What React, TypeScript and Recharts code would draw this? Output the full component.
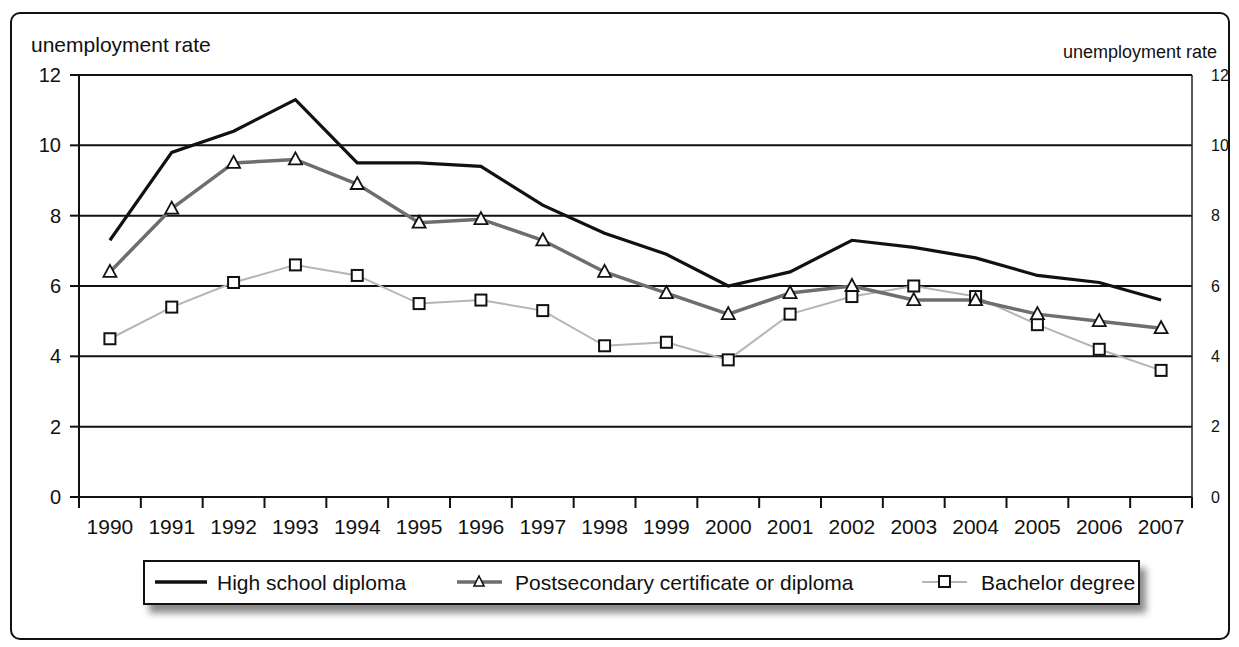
import React from 'react';
import {
  LineChart,
  Line,
  XAxis,
  YAxis,
  CartesianGrid,
} from 'recharts';

const years = ['1990', '1991', '1992', '1993', '1994', '1995', '1996', '1997', '1998', '1999', '2000', '2001', '2002', '2003', '2004', '2005', '2006', '2007'];
const highSchool = [7.3, 9.8, 10.4, 11.3, 9.5, 9.5, 9.4, 8.3, 7.5, 6.9, 6.0, 6.4, 7.3, 7.1, 6.8, 6.3, 6.1, 5.6];
const postsecondary = [6.4, 8.2, 9.5, 9.6, 8.9, 7.8, 7.9, 7.3, 6.4, 5.8, 5.2, 5.8, 6.0, 5.6, 5.6, 5.2, 5.0, 4.8];
const bachelor = [4.5, 5.4, 6.1, 6.6, 6.3, 5.5, 5.6, 5.3, 4.3, 4.4, 3.9, 5.2, 5.7, 6.0, 5.7, 4.9, 4.2, 3.6];
const yTicks = [0, 2, 4, 6, 8, 10, 12];

const W = 1239;
const H = 647;
const PLOT_LEFT = 79;
const PLOT_RIGHT = 1192;
const PLOT_TOP = 75;
const PLOT_BOTTOM = 497;
const BAND = (PLOT_RIGHT - PLOT_LEFT) / years.length;
const FONT = '"Liberation Sans", Arial, sans-serif';

const data = years.map((year, i) => ({
  year,
  highSchool: highSchool[i],
  postsecondary: postsecondary[i],
  bachelor: bachelor[i],
}));

const YearTick = ({ x, payload, index }: any) => (
  <g>
    <line x1={x - BAND / 2} x2={x - BAND / 2} y1={PLOT_BOTTOM} y2={PLOT_BOTTOM + 11} stroke="#111" strokeWidth={2} />
    {index === years.length - 1 && (
      <line x1={x + BAND / 2} x2={x + BAND / 2} y1={PLOT_BOTTOM} y2={PLOT_BOTTOM + 11} stroke="#111" strokeWidth={2} />
    )}
    <text x={x} y={PLOT_BOTTOM + 37} textAnchor="middle" fontSize={21} fill="#111" fontFamily={FONT}>
      {payload.value}
    </text>
  </g>
);

const Triangle = ({ cx, cy, index }: any) => (
  <path
    key={`tri-${index}`}
    d={`M${cx},${cy - 7} L${cx + 6.5},${cy + 5} L${cx - 6.5},${cy + 5} Z`}
    fill="#fff"
    stroke="#111"
    strokeWidth={1.8}
  />
);

const Square = ({ cx, cy, index }: any) => (
  <rect key={`sq-${index}`} x={cx - 5.5} y={cy - 5.5} width={11} height={11} fill="#fff" stroke="#111" strokeWidth={2} />
);

// legend drawn in page coordinates, box sits at left 143
const LegendBox = () => (
  <div
    style={{
      position: 'absolute',
      left: 143,
      top: 560,
      width: 997,
      height: 45,
      border: '2px solid #111',
      background: '#fff',
      boxShadow: '6px 8px 7px #8a8a8a',
      boxSizing: 'border-box',
    }}
  >
    <svg width={995} height={41} style={{ position: 'absolute', left: 0, top: 0 }}>
      <line x1={10} x2={62} y1={20} y2={20} stroke="#111" strokeWidth={3.5} />
      <text x={72} y={28} fontSize={21} fontFamily={FONT} fill="#111">High school diploma</text>
      <line x1={312} x2={357} y1={20} y2={20} stroke="#6e6e6e" strokeWidth={3.5} />
      <path d="M334,14 L339,24 L329,24 Z" fill="#fff" stroke="#111" strokeWidth={1.6} />
      <text x={370} y={28} fontSize={21} fontFamily={FONT} fill="#111">Postsecondary certificate or diploma</text>
      <line x1={777} x2={822} y1={20} y2={20} stroke="#b5b5b5" strokeWidth={2} />
      <rect x={794} y={14} width={11} height={11} fill="#fff" stroke="#111" strokeWidth={2} />
      <text x={836} y={28} fontSize={21} fontFamily={FONT} fill="#111">Bachelor degree</text>
    </svg>
  </div>
);

export default function App() {
  return (
    <div style={{ position: 'absolute', left: 0, top: 0, width: W, height: H, background: '#fff', fontFamily: FONT }}>
      <div
        style={{
          position: 'absolute',
          left: 10,
          top: 12,
          width: 1220,
          height: 628,
          border: '2px solid #111',
          borderRadius: 10,
          boxSizing: 'border-box',
        }}
      />
      <div style={{ position: 'absolute', left: 31, top: 33, fontSize: 21, color: '#111' }}>unemployment rate</div>
      <div style={{ position: 'absolute', left: 1063, top: 42, fontSize: 18, color: '#111' }}>unemployment rate</div>
      <div style={{ position: 'absolute', left: 0, top: 0 }}>
        <LineChart
          width={W}
          height={H}
          data={data}
          margin={{ top: PLOT_TOP, left: PLOT_LEFT - 40, right: W - PLOT_RIGHT - 40, bottom: H - PLOT_BOTTOM - 40 }}
        >
          <CartesianGrid yAxisId="left" horizontal vertical={false} stroke="#111" strokeWidth={2} />
          <XAxis
            dataKey="year"
            scale="band"
            interval={0}
            height={40}
            tick={<YearTick />}
            tickLine={false}
            axisLine={{ stroke: '#111', strokeWidth: 2 }}
          />
          <YAxis
            yAxisId="left"
            width={40}
            domain={[0, 12]}
            ticks={yTicks}
            tickSize={9}
            tickMargin={9}
            tickLine={{ stroke: '#111', strokeWidth: 2 }}
            axisLine={{ stroke: '#111', strokeWidth: 2 }}
            tick={{ fontSize: 20, fill: '#111', fontFamily: FONT }}
          />
          <YAxis
            yAxisId="right"
            orientation="right"
            width={40}
            domain={[0, 12]}
            ticks={yTicks}
            tickSize={0}
            tickMargin={19}
            tickLine={false}
            axisLine={{ stroke: '#222', strokeWidth: 1.5 }}
            tick={{ fontSize: 16, fill: '#111', fontFamily: FONT }}
          />
          {/* invisible copy so the right axis gets its ticks */}
          <Line
            yAxisId="right"
            dataKey="highSchool"
            stroke="none"
            dot={false}
            activeDot={false}
            legendType="none"
            isAnimationActive={false}
          />
          <Line
            yAxisId="left"
            dataKey="bachelor"
            stroke="#b5b5b5"
            strokeWidth={2}
            dot={Square}
            activeDot={false}
            isAnimationActive={false}
          />
          <Line
            yAxisId="left"
            dataKey="postsecondary"
            stroke="#6e6e6e"
            strokeWidth={3.5}
            dot={Triangle}
            activeDot={false}
            isAnimationActive={false}
          />
          <Line
            yAxisId="left"
            dataKey="highSchool"
            stroke="#111"
            strokeWidth={3.2}
            dot={false}
            activeDot={false}
            isAnimationActive={false}
          />
        </LineChart>
      </div>
      <LegendBox />
    </div>
  );
}
